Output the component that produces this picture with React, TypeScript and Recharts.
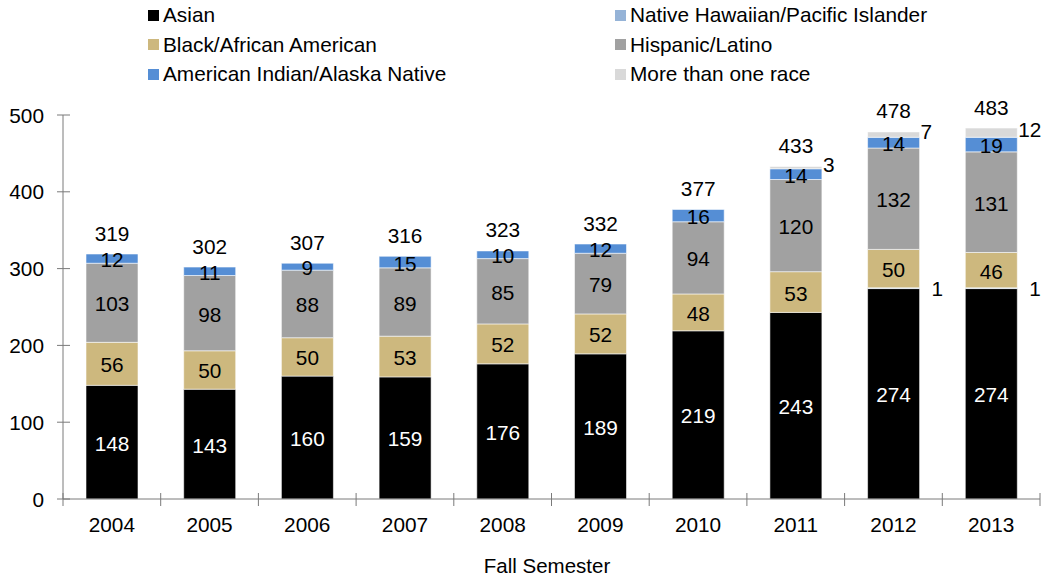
import { Bar, BarChart, LabelList, XAxis, YAxis } from "recharts";

const years = ["2004", "2005", "2006", "2007", "2008", "2009", "2010", "2011", "2012", "2013"];
const asian = [148, 143, 160, 159, 176, 189, 219, 243, 274, 274];
const nativeHawaiian = [0, 0, 0, 0, 0, 0, 0, 0, 1, 1];
const black = [56, 50, 50, 53, 52, 52, 48, 53, 50, 46];
const hispanic = [103, 98, 88, 89, 85, 79, 94, 120, 132, 131];
const americanIndian = [12, 11, 9, 15, 10, 12, 16, 14, 14, 19];
const multiRace = [0, 0, 0, 0, 0, 0, 0, 3, 7, 12];
const totals = [319, 302, 307, 316, 323, 332, 377, 433, 478, 483];
const yTicks = [0, 100, 200, 300, 400, 500];

const colors = {
  asian: "#000000",
  nativeHawaiian: "#95b3d7",
  black: "#cdb87e",
  hispanic: "#a1a1a1",
  americanIndian: "#558ed5",
  multiRace: "#d9d9d9",
};

const legendItems = [
  { name: "Asian", color: colors.asian },
  { name: "Native Hawaiian/Pacific Islander", color: colors.nativeHawaiian },
  { name: "Black/African American", color: colors.black },
  { name: "Hispanic/Latino", color: colors.hispanic },
  { name: "American Indian/Alaska Native", color: colors.americanIndian },
  { name: "More than one race", color: colors.multiRace },
];

const data = years.map((year, i) => ({
  year,
  asian: asian[i],
  nativeHawaiian: nativeHawaiian[i],
  black: black[i],
  hispanic: hispanic[i],
  americanIndian: americanIndian[i],
  multiRace: multiRace[i],
  total: totals[i],
}));

const W = 1042;
const H = 579;
const M = { top: 115, right: 2, bottom: 50, left: 0 };
const Y_AXIS_W = 63;
const BAND = (W - M.left - M.right - Y_AXIS_W) / years.length;
const AXIS = "#7a7a7a";
const FONT = "'Liberation Sans', Arial, sans-serif";
const FS = 20.8;

function box(p: any) {
  const vb = p.viewBox ?? p;
  return { x: Number(vb.x), y: Number(vb.y), w: Number(vb.width), h: Number(vb.height) };
}

const centerLabel = (fill: string) => (p: any) => {
  if (!p.value) return null;
  const { x, y, w, h } = box(p);
  return (
    <text x={x + w / 2} y={y + h / 2 + 1} fill={fill} fontSize={FS} textAnchor="middle" dominantBaseline="central">
      {p.value}
    </text>
  );
};

const sideLabel = (dx: number, dy: number) => (p: any) => {
  if (!p.value) return null;
  const { x, y, w, h } = box(p);
  return (
    <text x={x + w + dx} y={y + h / 2 + dy} fill="#000" fontSize={FS} textAnchor="start" dominantBaseline="central">
      {p.value}
    </text>
  );
};

// total sits on top of the stack: on the multi-race segment when it exists, else on the AI/AN segment
const totalLabel = (onTopSeries: boolean) => (p: any) => {
  const i = totals.indexOf(Number(p.value));
  if (i < 0 || (multiRace[i] > 0) !== onTopSeries) return null;
  const { x, y, w } = box(p);
  return (
    <text x={x + w / 2} y={y - 21} fill="#000" fontSize={FS} textAnchor="middle" dominantBaseline="central">
      {totals[i]}
    </text>
  );
};

function YTick({ x, y, payload }: any) {
  return (
    <g>
      <line x1={x - 6} x2={x + 7} y1={y} y2={y} stroke={AXIS} />
      <text x={x - 19} y={y} fontSize={FS} fill="#000" textAnchor="end" dominantBaseline="central">
        {payload.value}
      </text>
    </g>
  );
}

function XTick({ x, y, payload, index }: any) {
  const left = x - BAND / 2;
  return (
    <g>
      <line x1={left} x2={left} y1={y - 6} y2={y + 7} stroke={AXIS} />
      {index === years.length - 1 && <line x1={x + BAND / 2} x2={x + BAND / 2} y1={y - 6} y2={y + 7} stroke={AXIS} />}
      <text x={x} y={y + 25} fontSize={FS} fill="#000" textAnchor="middle" dominantBaseline="central">
        {payload.value}
      </text>
    </g>
  );
}

export default function App() {
  const seg = { stackId: "s", isAnimationActive: false, stroke: "#ffffff", strokeOpacity: 0.7, strokeWidth: 0.8 };
  return (
    <div style={{ position: "absolute", left: 0, top: 0, width: W, height: H, fontFamily: FONT, background: "#fff" }}>
      {legendItems.map((item, i) => {
        const col = i % 2;
        const row = Math.floor(i / 2);
        return (
          <div
            key={item.name}
            style={{
              position: "absolute",
              left: col === 0 ? 148 : 615,
              top: 15 + row * 29.5 - 11,
              height: 22,
              display: "flex",
              alignItems: "center",
              fontSize: FS,
              lineHeight: "22px",
              color: "#000",
              whiteSpace: "nowrap",
            }}
          >
            <span style={{ width: 11, height: 11, background: item.color, marginRight: 4, display: "inline-block" }} />
            {item.name}
          </div>
        );
      })}
      <BarChart width={W} height={H} data={data} margin={M} barSize={52} style={{ fontFamily: FONT }}>
        <XAxis
          dataKey="year"
          height={30}
          tickSize={0}
          tickMargin={0}
          axisLine={{ stroke: AXIS }}
          tick={<XTick />}
          interval={0}
        />
        <YAxis
          width={Y_AXIS_W}
          domain={[0, 500]}
          ticks={yTicks}
          tickSize={0}
          tickMargin={0}
          axisLine={{ stroke: AXIS }}
          tick={<YTick />}
        />
        <Bar dataKey="asian" fill={colors.asian} {...seg}>
          <LabelList dataKey="asian" content={centerLabel("#ffffff")} />
        </Bar>
        <Bar dataKey="nativeHawaiian" fill={colors.nativeHawaiian} {...seg}>
          <LabelList dataKey="nativeHawaiian" content={sideLabel(12, 0)} />
        </Bar>
        <Bar dataKey="black" fill={colors.black} {...seg}>
          <LabelList dataKey="black" content={centerLabel("#000")} />
        </Bar>
        <Bar dataKey="hispanic" fill={colors.hispanic} {...seg}>
          <LabelList dataKey="hispanic" content={centerLabel("#000")} />
        </Bar>
        <Bar dataKey="americanIndian" fill={colors.americanIndian} {...seg}>
          <LabelList dataKey="americanIndian" content={centerLabel("#000")} />
          <LabelList dataKey="total" content={totalLabel(false)} />
        </Bar>
        <Bar dataKey="multiRace" fill={colors.multiRace} {...seg}>
          <LabelList dataKey="multiRace" content={sideLabel(1, -3)} />
          <LabelList dataKey="total" content={totalLabel(true)} />
        </Bar>
      </BarChart>
      <div
        style={{
          position: "absolute",
          left: 0,
          width: W,
          top: 555,
          textAlign: "center",
          fontSize: 20.5,
          lineHeight: "22px",
          paddingLeft: 52,
          boxSizing: "border-box",
        }}
      >
        Fall Semester
      </div>
    </div>
  );
}
